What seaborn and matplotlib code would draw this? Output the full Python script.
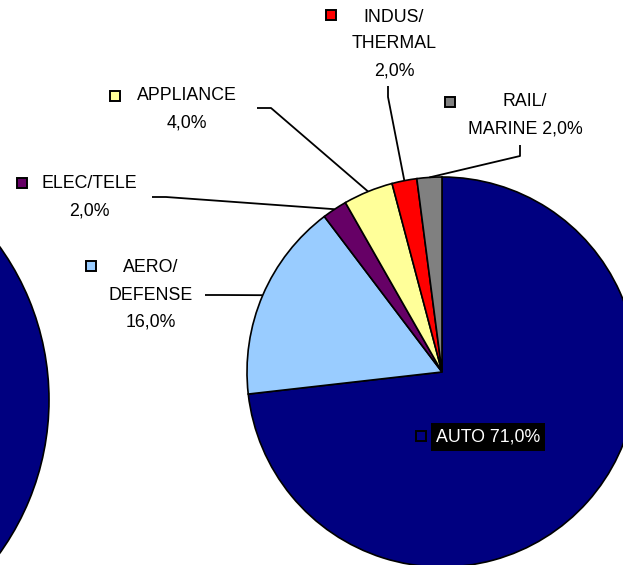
import matplotlib
matplotlib.use("Agg")
import matplotlib.pyplot as plt
import seaborn as sns
import numpy as np

# ---- data ----
categories = ["AUTO", "AERO/\nDEFENSE", "ELEC/TELE", "APPLIANCE", "INDUS/\nTHERMAL", "RAIL/\nMARINE"]
values = [71.0, 16.0, 2.0, 4.0, 2.0, 2.0]
label_sep = [" ", "\n", "\n", "\n", "\n", " "]
colors = ["#000080", "#99CCFF", "#660066", "#FFFF99", "#FF0000", "#808080"]
neighbour_values = [100.0]

sns.set_theme(style="white")
plt.rcParams['font.family'] = ['Liberation Sans', 'DejaVu Sans']

W, H = 623, 565
fig = plt.figure(figsize=(W / 100, H / 100), dpi=100)
fig.patch.set_facecolor("white")
ax = fig.add_axes([0, 0, 1, 1])


def Y(y):
    return H - y


wp = dict(edgecolor="black", linewidth=1.2)

# fragment of the neighbouring pie on the left edge
ax.pie(neighbour_values, colors=["#000080"], center=(-214, Y(400)), radius=263,
       wedgeprops=wp, frame=True)

cx, cy, R = 442, Y(372), 195
wedges, _ = ax.pie(values, colors=colors, center=(cx, cy), radius=R,
                   startangle=90, counterclock=False, wedgeprops=wp, frame=True)

# label layout (pixel coords, y down)
text_pos = [(488, 437), (151, 268), (89, 184), (187, 96), (394, 17), (525, 102)]
key_pos = [(421, 436), (91, 266), (22, 183), (115, 96), (331, 15), (450, 102)]
leader = {1: [(205, 295), (222, 295)],
          2: [(152, 197), (166, 197)],
          3: [(257, 108), (271, 108)],
          4: [(388, 86), (388, 97)],
          5: [(520, 145), (520, 156)]}
line_step = 27
fs = 12.8

for i, (cat, v) in enumerate(zip(categories, values)):
    pct = f"{v:.1f}%".replace(".", ",")
    label = cat + label_sep[i] + pct
    lines = label.split("\n")
    tx, ty = text_pos[i]
    for k, ln in enumerate(lines):
        if i == 0:
            ax.text(tx, Y(ty + k * line_step), ln, ha="center", va="center",
                    fontsize=fs, color="white",
                    bbox=dict(boxstyle="square,pad=0.3", facecolor="black", edgecolor="none"))
        else:
            ax.text(tx, Y(ty + k * line_step), ln, ha="center", va="center",
                    fontsize=fs, color="black")
    kx, ky = key_pos[i]
    ax.plot([kx], [Y(ky)], marker="s", markersize=7.5, markerfacecolor=colors[i],
            markeredgecolor="black", markeredgewidth=1.4, linestyle="none")
    if i in leader:
        w = wedges[i]
        th = np.deg2rad((w.theta1 + w.theta2) / 2)
        ex, ey = cx + R * np.cos(th), cy + R * np.sin(th)
        pts = leader[i]
        xs = [p[0] for p in pts] + [ex]
        ys = [Y(p[1]) for p in pts] + [ey]
        ax.plot(xs, ys, color="black", linewidth=1.3, solid_capstyle="butt")

ax.set_xlim(0, W)
ax.set_ylim(0, H)
ax.set_aspect("equal")
ax.axis("off")

fig.savefig("out.png", dpi=100, facecolor="white")
